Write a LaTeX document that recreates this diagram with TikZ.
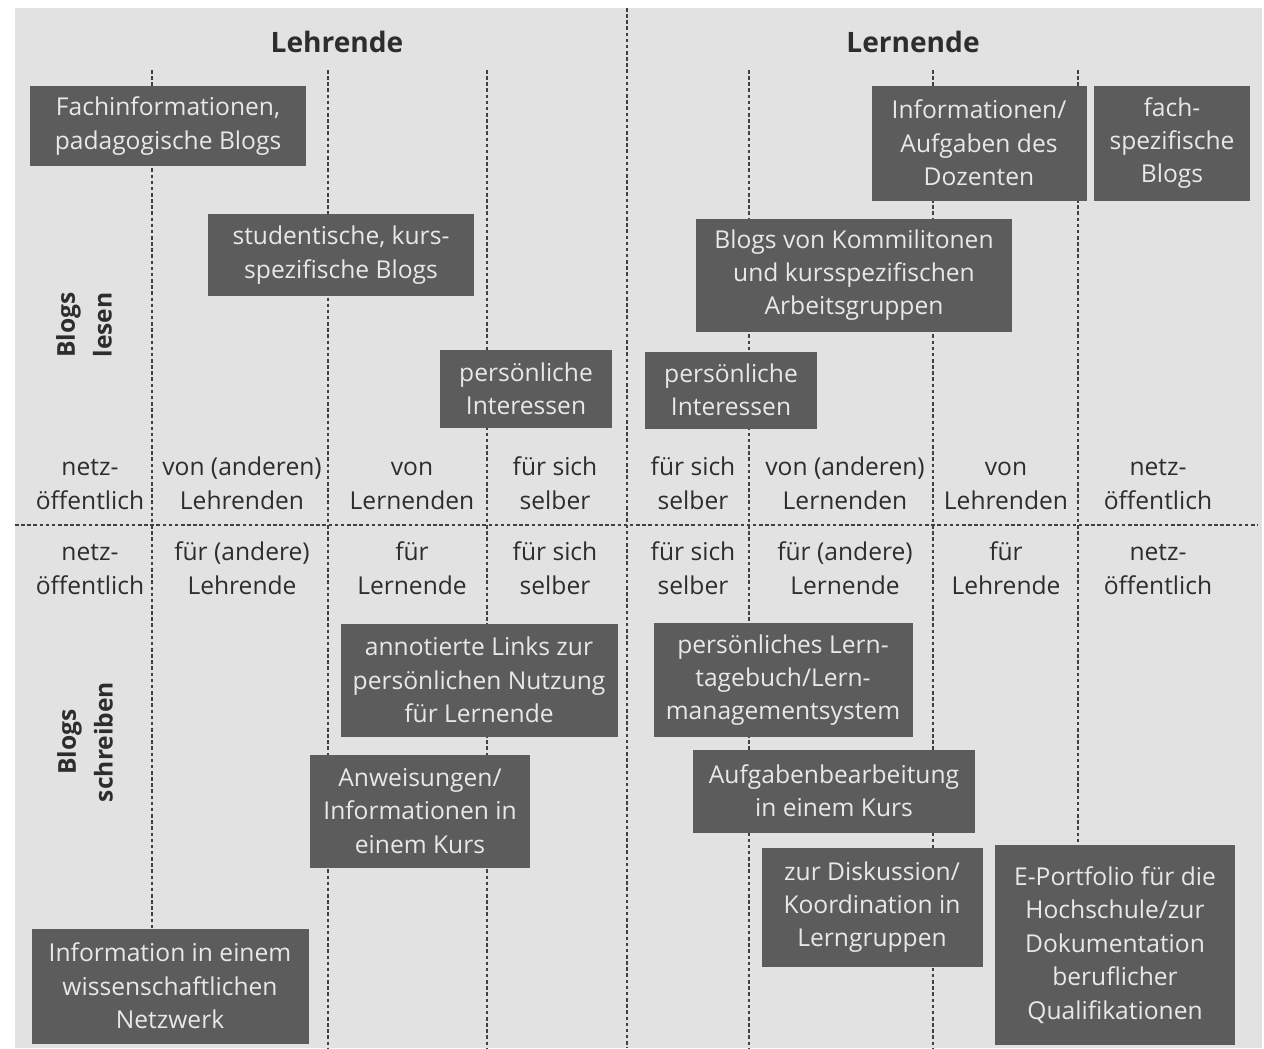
\documentclass[tikz,border=0pt]{standalone}
\usepackage{fontspec}
\setmainfont{Open Sans}
\definecolor{bg}{RGB}{226,226,226}
\definecolor{boxgray}{RGB}{92,92,92}
\definecolor{boxtext}{RGB}{232,232,232}
\definecolor{labtext}{RGB}{45,45,45}
\definecolor{linegray}{RGB}{65,65,65}
\tikzset{
	blk/.style={fill=boxgray,text=boxtext,align=center,inner sep=0pt,font=\fontsize{14}{19}\selectfont},
	sz/.style 2 args={minimum width=#1*0.02cm,minimum height=#2*0.02cm},
	lab/.style={text=labtext,align=center,font=\fontsize{14}{19}\selectfont},
	head/.style={text=labtext,align=center,font=\bfseries\fontsize{16}{20}\selectfont},
	sepline/.style={linegray,line width=1.2pt,dash pattern=on 2pt off 1.5pt},
}
\begin{document}
\begin{tikzpicture}[x=0.02cm,y=-0.02cm]
	\useasboundingbox (0,0) rectangle (1264,1048);
	\fill[bg] (15,8) rectangle (1262,1048);
	% Trennlinien
	\foreach \x/\ya/\yb in {152/70/928,328/70/1048,487/70/1048,627/8/1048,749/70/1048,933/70/1048,1078/70/846}{
			\draw[sepline] (\x,\ya)--(\x,\yb);%senkrecht
		}
	\draw[sepline] (15,525)--(1258,525);
	% Ueberschriften
	\node[head] (lehr) at (337,42) {Lehrende};
	\node[head] (lern) at (913,42) {Lernende};
	\node[head,rotate=90,font=\bfseries\fontsize{14}{21}\selectfont] (lesen) at (84,325) {Blogs\\lesen};
	\node[head,rotate=90,font=\bfseries\fontsize{14}{21}\selectfont] (schreiben) at (85,742) {Blogs\\schreiben};
	% Spaltenbeschriftungen
	\foreach \x/\a/\b [count=\i] in {90/netz-/öffentlich,242/von (anderen)/Lehrenden,412/von/Lernenden,555/für sich/selber,693/für sich/selber,845/von (anderen)/Lernenden,1006/von/Lehrenden,1158/netz-/öffentlich}{
			\node[lab] (von\i) at (\x,486) {\strut\a\\\strut\b};
		}
	\foreach \x/\a/\b [count=\i] in {90/netz-/öffentlich,242/für (andere)/Lehrende,412/für/Lernende,555/für sich/selber,693/für sich/selber,845/für (andere)/Lernende,1006/für/Lehrende,1158/netz-/öffentlich}{
			\node[lab] (fuer\i) at (\x,571) {\strut\a\\\strut\b};
		}
	% Blogs lesen
	\node[blk,sz={276}{80}] (fachinfo) at (168,126) {Fachinformationen,\\padagogische Blogs};
	\node[blk,sz={266}{82}] (studkurs) at (341,255) {studentische, kurs-\\spezifische Blogs};
	\node[blk,sz={172}{78}] (persL) at (526,389) {persönliche\\Interessen};
	\node[blk,sz={215}{115}] (infodoz) at (979,143) {Informationen/\\Aufgaben des\\Dozenten};
	\node[blk,sz={156}{115}] (fachspez) at (1172,143) {fach-\\spezifische\\Blogs};
	\node[blk,sz={316}{113}] (kommil) at (854,275) {Blogs von Kommilitonen\\und kursspezifischen\\Arbeitsgruppen};
	\node[blk,sz={172}{77}] (persR) at (731,390) {persönliche\\Interessen};
	% Blogs schreiben
	\node[blk,sz={277}{113}] (annlinks) at (479,680) {annotierte Links zur\\persönlichen Nutzung\\für Lernende};
	\node[blk,sz={220}{113}] (anweis) at (420,811) {Anweisungen/\\Informationen in\\einem Kurs};
	\node[blk,sz={277}{115}] (wissnetz) at (170,986) {Information in einem\\wissenschaftlichen\\Netzwerk};
	\node[blk,sz={259}{114}] (lerntag) at (783,680) {persönliches Lern-\\tagebuch/Lern-\\managementsystem};
	\node[blk,sz={282}{83}] (aufgbearb) at (834,791) {Aufgabenbearbeitung\\in einem Kurs};
	\node[blk,sz={221}{119}] (diskuss) at (872,907) {zur Diskussion/\\Koordination in\\Lerngruppen};
	\node[blk,sz={240}{200}] (eportf) at (1115,945) {E-Portfolio für die\\Hochschule/zur\\Dokumentation\\beruflicher\\Qualifikationen};
\end{tikzpicture}
\end{document}
